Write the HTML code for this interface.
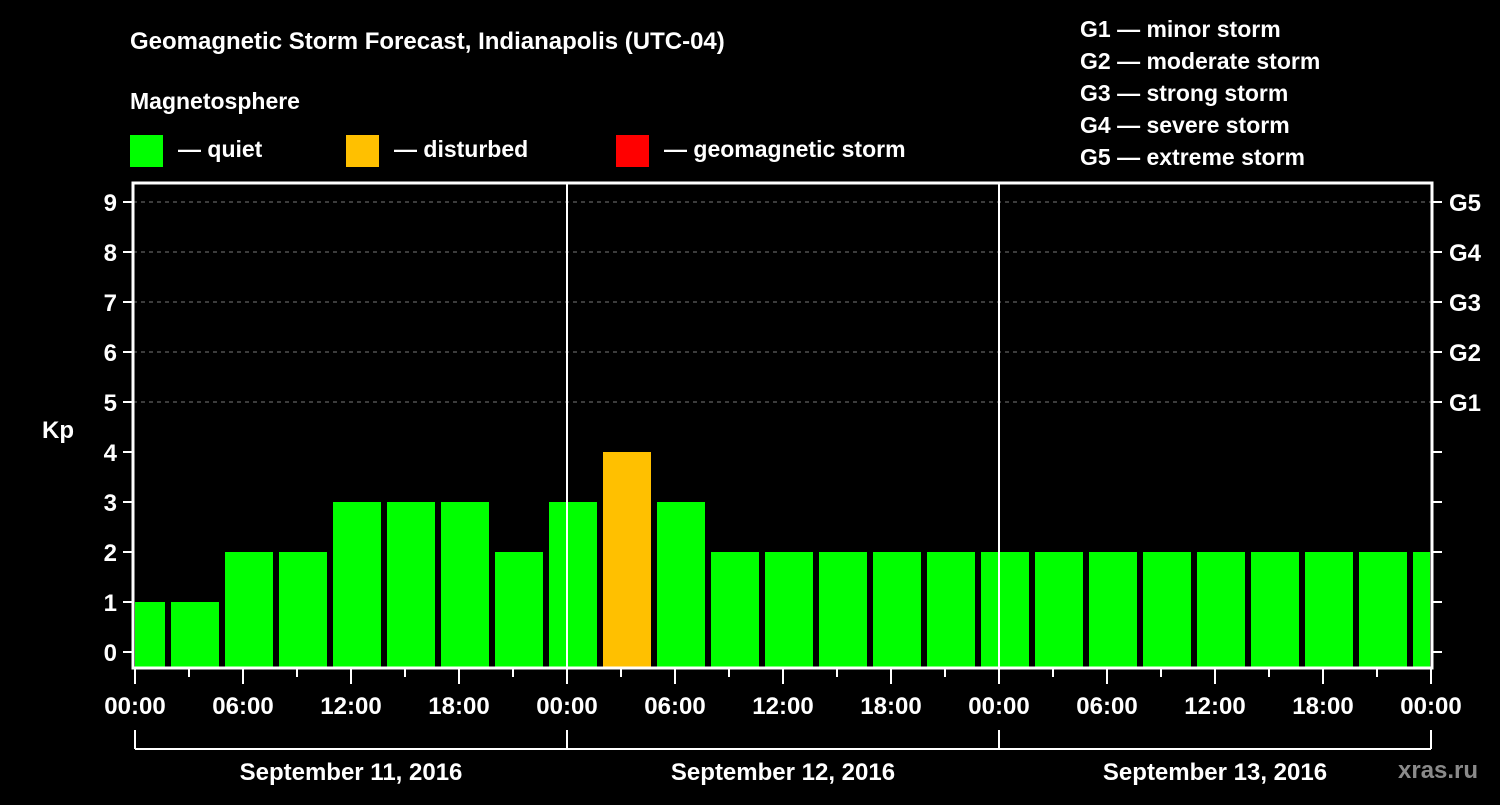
<!DOCTYPE html>
<html><head><meta charset="utf-8"><style>
body{margin:0;background:#000;width:1500px;height:800px;overflow:hidden}
svg text{font-family:"Liberation Sans",sans-serif;font-weight:bold;fill:#fff}
</style></head><body>
<svg id="c" width="1500" height="800">
<text x="130" y="49" font-size="24">Geomagnetic Storm Forecast, Indianapolis (UTC-04)</text>
<text x="130" y="109" font-size="23">Magnetosphere</text>
<rect x="130" y="135" width="33" height="32" fill="#00ff00"/>
<text x="178" y="157" font-size="23">— quiet</text>
<rect x="346" y="135" width="33" height="32" fill="#ffc000"/>
<text x="394" y="157" font-size="23">— disturbed</text>
<rect x="616" y="135" width="33" height="32" fill="#ff0000"/>
<text x="664" y="157" font-size="23">— geomagnetic storm</text>
<g font-size="23">
<text x="1080" y="37">G1 — minor storm</text>
<text x="1080" y="69">G2 — moderate storm</text>
<text x="1080" y="101">G3 — strong storm</text>
<text x="1080" y="133">G4 — severe storm</text>
<text x="1080" y="165">G5 — extreme storm</text>
</g>
<text x="42" y="438" font-size="24">Kp</text>
<text x="1398" y="778" font-size="24" fill="#888" style="fill:#8a8a8a">xras.ru</text>
<g id="plot"></g>
</svg>
<script>
const kpValues=[1,1,2,2,3,3,3,2,3,4,3,2,2,2,2,2,2,2,2,2,2,2,2,2,2];
const yTicks=[0,1,2,3,4,5,6,7,8,9];
const gLabels=["G1","G2","G3","G4","G5"];
const xLabels=["00:00","06:00","12:00","18:00","00:00","06:00","12:00","18:00","00:00","06:00","12:00","18:00","00:00"];
const days=["September 11, 2016","September 12, 2016","September 13, 2016"];
const NS="http://www.w3.org/2000/svg";
const g=document.getElementById('plot');
const L=133,R=1432,T=183,B=668,X0=135,PXH=18;
const y=v=>652-50*v;
const x=h=>X0+h*PXH;
function mk(t,a,p){const e=document.createElementNS(NS,t);for(const k in a)e.setAttribute(k,a[k]);(p||g).appendChild(e);return e;}
// grid
for(let v=5;v<=9;v++){const e=mk('line',{x1:L,x2:R,y1:y(v),y2:y(v),stroke:'#777','stroke-dasharray':'4 4','stroke-width':1});

}
// bars
const clip=mk('clipPath',{id:'cp'});mk('rect',{x:L+2,y:T,width:R-L-4,height:B-T},clip);
kpValues.forEach((v,i)=>{const c=v>=5?'#ff0000':v>=4?'#ffc000':'#00ff00';
const e=mk('rect',{x:x(i*3-1),y:y(v),width:48,height:B-y(v),fill:c,'clip-path':'url(#cp)'});

});
// day lines
[1,2].forEach(d=>{mk('line',{x1:x(d*24),x2:x(d*24),y1:T,y2:B,stroke:'#fff','stroke-width':2});});
// frame
const f=mk('rect',{x:L,y:T,width:R-L,height:B-T,fill:'none',stroke:'#fff','stroke-width':3});


// y ticks
yTicks.forEach(v=>{mk('line',{x1:L-10,x2:L,y1:y(v),y2:y(v),stroke:'#fff','stroke-width':2});
mk('line',{x1:R,x2:R+10,y1:y(v),y2:y(v),stroke:'#fff','stroke-width':2});
const t=mk('text',{x:L-16,y:y(v)+9,'font-size':24,'text-anchor':'end'});t.textContent=v;

});
gLabels.forEach((s,i)=>{const t=mk('text',{x:R+17,y:y(5+i)+9,'font-size':24});t.textContent=s;

});
// x ticks
for(let h=0;h<=72;h+=3){const long=h%6===0;mk('line',{x1:x(h),x2:x(h),y1:B,y2:B+(long?16:9),stroke:'#fff','stroke-width':2});}
xLabels.forEach((s,i)=>{const t=mk('text',{x:x(i*6),y:714,'font-size':24,'text-anchor':'middle'});t.textContent=s;

});
// day bracket
mk('line',{x1:x(0),x2:x(72),y1:749,y2:749,stroke:'#fff','stroke-width':2});
for(let d=0;d<=3;d++)mk('line',{x1:x(d*24),x2:x(d*24),y1:730,y2:749,stroke:'#fff','stroke-width':2});
days.forEach((s,i)=>{const t=mk('text',{x:x(i*24+12),y:780,'font-size':24,'text-anchor':'middle'});t.textContent=s;

});
</script>
</body></html>
